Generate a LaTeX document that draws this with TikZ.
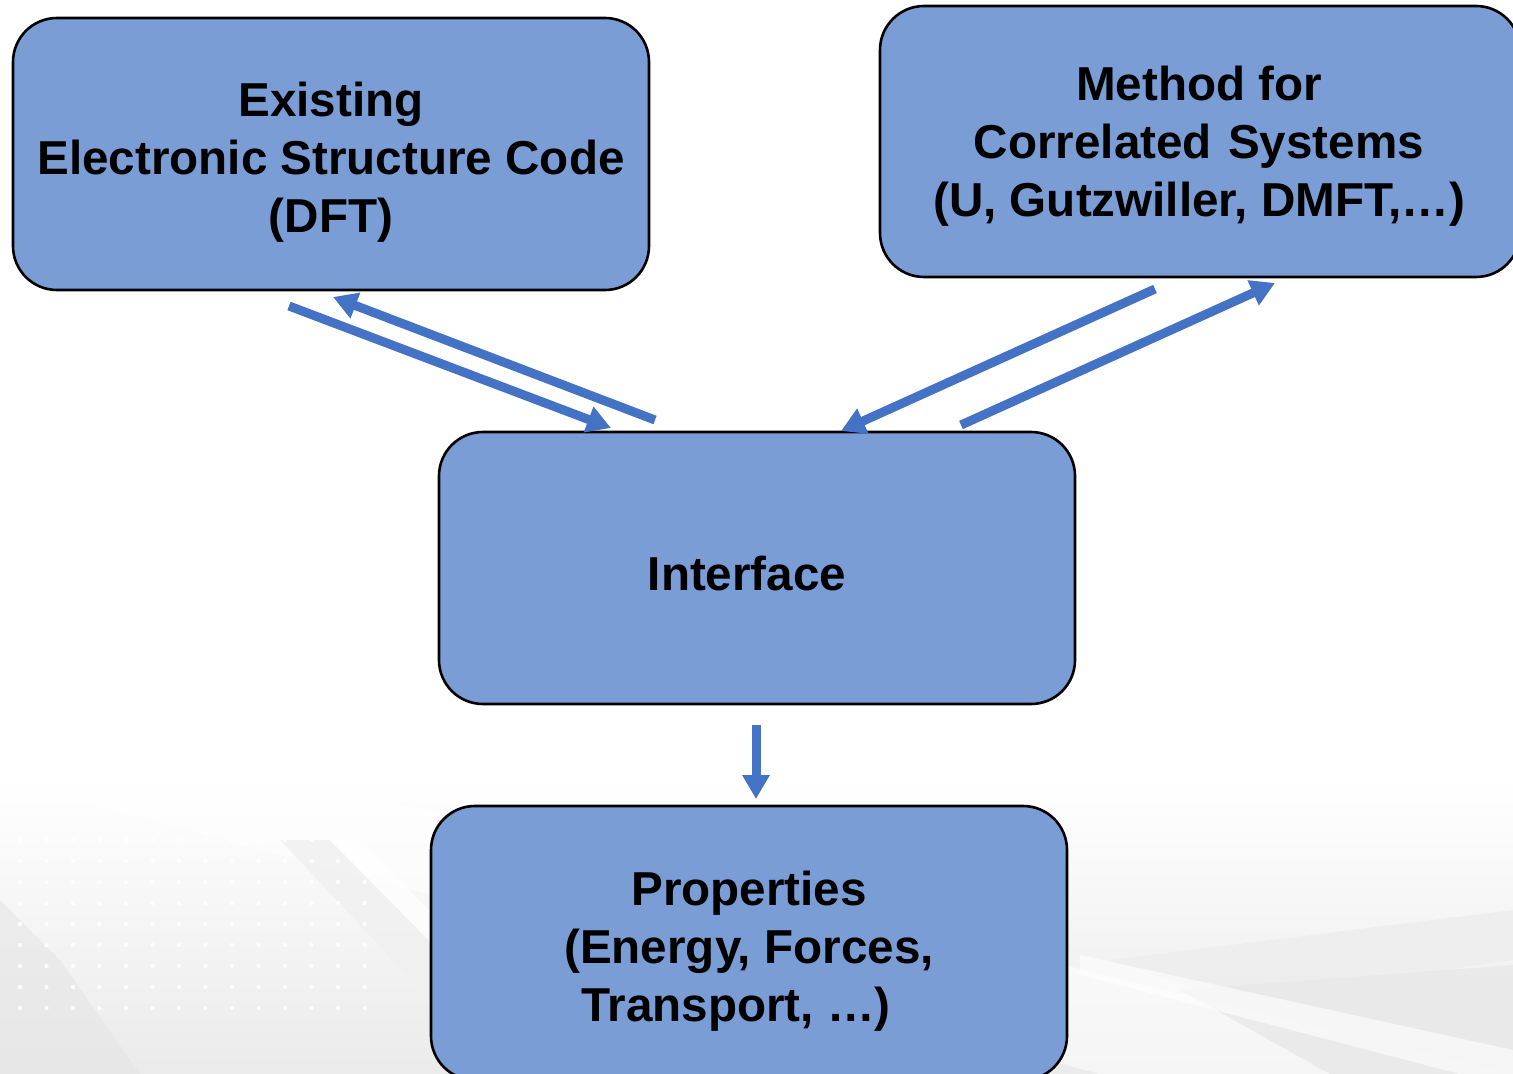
\documentclass[tikz,border=0pt]{standalone}
\usepackage{fontspec}
\setmainfont{Liberation Sans}
\usetikzlibrary{arrows.meta}
\definecolor{boxfill}{HTML}{7B9DD5}
\definecolor{flow}{HTML}{4472C4}
\tikzset{
  stage/.style={draw=black, line width=1.3pt, fill=boxfill, rounded corners=22pt,
    inner sep=0pt},
  stagetext/.style={align=center, inner sep=0pt,
    font=\fontsize{23.8}{29}\selectfont\bfseries},
  flowarrow/.style={draw=flow, line width=4.5pt,
    -{Triangle[length=12pt,width=13pt]}},
}
\begin{document}
\begin{tikzpicture}[x=0.5pt,y=-0.5pt]
\useasboundingbox (0,0) rectangle (1513,1074);
\clip (0,0) rectangle (1513,1074);

% soft grey backdrop along the bottom
\shade[top color=white, bottom color=gray!16] (0,780) rectangle (1513,1074);
\fill[white, opacity=0.55] (0,780) -- (300,780) -- (1513,1074) -- (1100,1074) -- cycle;
% diagonal streaks, lower left
\fill[gray!12, opacity=0.8] (280,840) -- (330,840) -- (560,1074) -- (500,1074) -- cycle;
\fill[white, opacity=0.7] (330,840) -- (360,840) -- (590,1074) -- (560,1074) -- cycle;
\fill[gray!20, opacity=0.6] (0,900) -- (60,960) -- (140,1074) -- (0,1074) -- cycle;
% crossing bands, lower right
\fill[gray!14, opacity=0.8] (1110,960) -- (1513,910) -- (1513,960) -- (1230,1000) -- cycle;
\fill[gray!18, opacity=0.8] (1180,990) -- (1513,965) -- (1513,1074) -- (1330,1074) -- cycle;
\fill[white, opacity=0.6] (1080,955) -- (1513,1050) -- (1513,1074) -- (1460,1074) -- (1080,975) -- cycle;
% faint dot grid, lower left
\foreach \i in {0,...,13}{
  \foreach \j in {0,...,8}{
    \fill[white, opacity=0.9] (20+\i*26.5, 840+\j*21) circle (2.2);
  }
}

% process stages
\node[stage, minimum width=318pt, minimum height=136pt] (dft) at (331,154) {};
\node[stage, minimum width=320pt, minimum height=135.5pt] (corr) at (1200,141.5) {};
\node[stage, minimum width=318pt, minimum height=136pt] (iface) at (757,568) {};
\node[stage, minimum width=318pt, minimum height=137pt] (props) at (749,943) {};

% stage captions
\node[stagetext] (dftText) at (331,162)
  {Existing\\Electronic Structure Code\\(DFT)};
\node[stagetext] (corrText) at (1199,146.5)
  {Method for\\Correlated\kern1.5pt\ Systems\\(U, Gutzwiller, DMFT,…)};
\node[stagetext] (ifaceText) at (747,573) {Interface};
\node[stagetext] (propsText) at (749,951)
  {Properties\\(Energy, Forces,\\Transport, …)\hphantom{\ \ }};

% arrow end points between the stages
\coordinate (dftOut) at (289,306);
\coordinate (ifaceIn1) at (611,428);
\coordinate (ifaceOut1) at (655,420);
\coordinate (dftIn) at (333,297);
\coordinate (corrOut) at (1155,289);
\coordinate (ifaceIn2) at (841,431);
\coordinate (ifaceOut2) at (961,425);
\coordinate (corrIn) at (1275,283);
\coordinate (ifaceDown) at (756,725);
\coordinate (propsIn) at (756,799);

\draw[flowarrow] (dftOut) -- (ifaceIn1);
\draw[flowarrow] (ifaceOut1) -- (dftIn);
\draw[flowarrow] (corrOut) -- (ifaceIn2);
\draw[flowarrow] (ifaceOut2) -- (corrIn);
\draw[flowarrow] (ifaceDown) -- (propsIn);
\end{tikzpicture}
\end{document}
